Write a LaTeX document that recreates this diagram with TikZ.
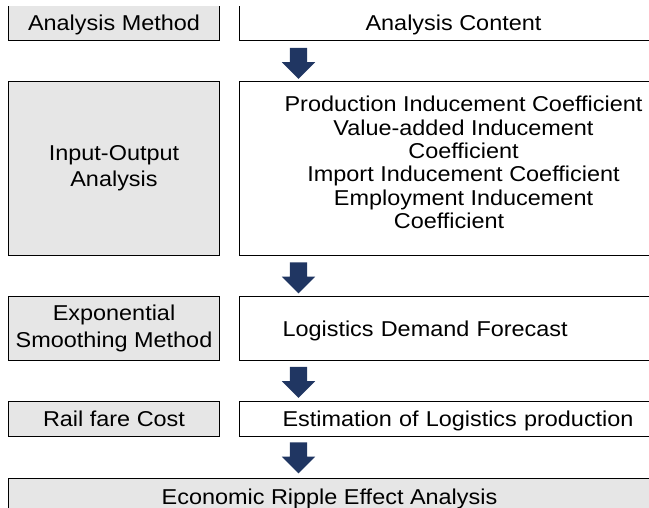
\documentclass[tikz,border=0pt]{standalone}
\usepackage{fontspec}
\setmainfont{Liberation Sans}[FakeStretch=1.09]
\usetikzlibrary{shapes}
\usetikzlibrary{positioning}

\definecolor{arrowblue}{RGB}{32,54,98}
\definecolor{boxgray}{RGB}{230,230,230}

\begin{document}
\begin{tikzpicture}[x=1pt, y=-1pt, method/.style={draw, fill=boxgray, line width=1pt, rectangle, minimum width=211pt, inner sep=0pt, align=center, font=\fontsize{21.5}{26.3}\selectfont}, content/.style={draw, fill=white, line width=1pt, rectangle, minimum width=428pt, inner sep=0pt, align=center, font=\fontsize{21.5}{23.4}\selectfont}, leftcontent/.style={content, inner xsep=43pt, text width=400pt, align=left}, down/.style={single arrow, shape border rotate=270, fill=arrowblue, minimum width=33pt, minimum height=31pt, single arrow head extend=8pt, inner sep=8.5pt}]
        \useasboundingbox (0,0) rectangle (649,508);
        \clip (0,6.5) rectangle (649,508);

        \node[method, minimum height=35pt, text depth=0pt, anchor=north west] (head) at (8,5) {Analysis Method};
        \node[content, minimum height=35pt, text depth=0pt] (headc) [right=19pt of head] {Analysis Content};

        \node[method, minimum height=174pt] (io) [below=40pt of head] {Input-Output\\Analysis};
        \node[content, minimum width=448pt, minimum height=174pt, text depth=12pt] (ioc) [right=19pt of io] {Production Inducement Coefficient\\
            Value-added Inducement\\
            Coefficient\hspace*{29pt}\\
            Import Inducement Coefficient\\
            Employment Inducement\hspace*{14pt}\\
            Coefficient\hspace*{29pt}};

        \node[method, minimum height=64pt] (exp) [below=40pt of io] {Exponential\\Smoothing Method};
        \node[leftcontent, minimum height=64pt, text depth=0pt] (expc) [right=19pt of exp] {Logistics Demand Forecast};

        \node[method, minimum height=35pt, text depth=0pt] (rail) [below=40pt of exp] {Rail fare Cost};
        \node[leftcontent, minimum height=35pt, text depth=0pt] (railc) [right=19pt of rail] {Estimation of Logistics production};

        \node[method, minimum width=642pt, minimum height=36pt, text depth=0pt] (eco) [below=41pt of rail.south west, anchor=north west] {Economic Ripple Effect Analysis};

        \node[down] (arr1) at (298.5,59) {};
        \node[down] (arr2) at (298.5,273.5) {};
        \node[down] (arr3) at (298.5,378) {};
        \node[down] (arr4) at (298.5,453.5) {};
    \end{tikzpicture}
\end{document}
